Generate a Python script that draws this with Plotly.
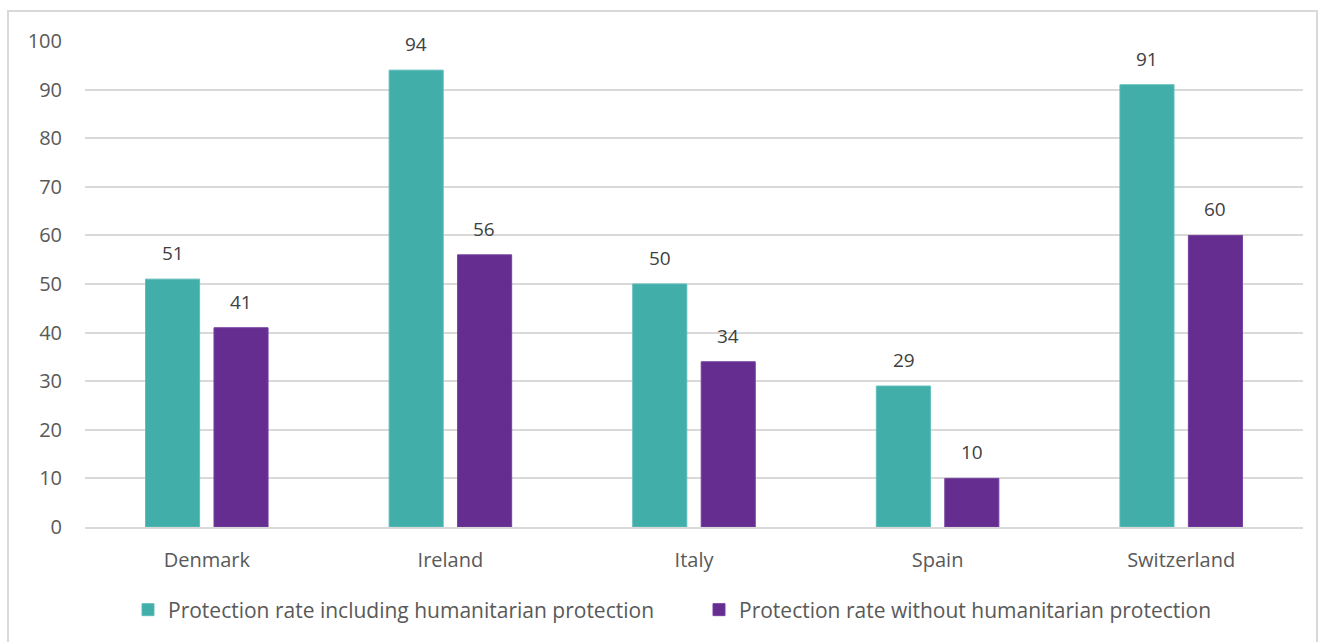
import plotly.graph_objects as go

countries = ["Denmark", "Ireland", "Italy", "Spain", "Switzerland"]
incl_humanitarian = [51, 94, 50, 29, 91]
without_humanitarian = [41, 56, 34, 10, 60]
series_names = ["Protection rate including humanitarian protection",
                "Protection rate without humanitarian protection"]
y_ticks = [0, 10, 20, 30, 40, 50, 60, 70, 80, 90, 100]

TEAL = "#41AEA9"
PURPLE = "#652D90"
FONT = "Open Sans"
FS = 20

fig = go.Figure()
fig.add_trace(go.Bar(
    x=countries, y=incl_humanitarian, name=series_names[0],
    marker=dict(color=TEAL, line=dict(color="#5cbdb8", width=1)),
))
fig.add_trace(go.Bar(
    x=countries, y=without_humanitarian, name=series_names[1],
    marker=dict(color=PURPLE, line=dict(color="#7440a0", width=1)),
))

annotations = []
for vals, shift in ((incl_humanitarian, -34), (without_humanitarian, 34)):
    for c, v in zip(countries, vals):
        annotations.append(dict(
            x=c, y=v, xref="x", yref="y", text=str(v), showarrow=False,
            xshift=shift, yshift=26, yanchor="middle", xanchor="center",
            font=dict(family=FONT, size=FS - 1, color="#404040"),
        ))

L, R, T, B = 85, 15, 41, 115
W, H = 1318, 642
pw = W - L - R
ph = H - T - B

def px_x(x):
    return (x - L) / pw

def px_y(y):
    return (H - B - y) / ph

fig.update_layout(
    width=W, height=H,
    margin=dict(l=L, r=R, t=T, b=B, pad=0),
    paper_bgcolor="white", plot_bgcolor="white",
    barmode="group", bargap=0.438, bargroupgap=0.21,
    font=dict(family=FONT, size=FS, color="#595959"),
    showlegend=True,
    legend=dict(orientation="h", x=px_x(699), xanchor="center", y=px_y(610), yanchor="middle",
                font=dict(family=FONT, size=21, color="#595959"),
                itemwidth=30, traceorder="normal", entrywidth=526, entrywidthmode="pixels"),
    annotations=annotations,
    xaxis=dict(showgrid=False, showline=True, linecolor="#d9d9d9", linewidth=2,
               ticks="", tickfont=dict(family=FONT, size=FS, color="#595959"),
               ticklabelstandoff=14),
    yaxis=dict(range=[0, 100], tickvals=y_ticks, showgrid=True, gridcolor="#d9d9d9",
               gridwidth=1.5, zeroline=False, showline=False, ticks="",
               tickfont=dict(family=FONT, size=FS, color="#595959"),
               ticklabelstandoff=22),
    shapes=[dict(type="rect", xref="paper", yref="paper",
                 x0=px_x(8), x1=px_x(1317), y0=px_y(645), y1=px_y(11),
                 line=dict(color="#d9d9d9", width=2), fillcolor="rgba(0,0,0,0)",
                 layer="below")],
)

fig.write_html("out.html")
